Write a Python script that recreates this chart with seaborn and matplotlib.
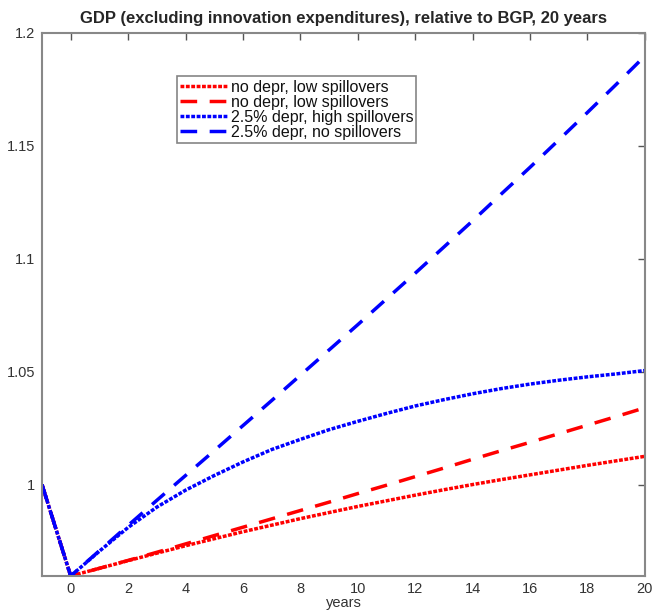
import matplotlib
matplotlib.use("Agg")
import matplotlib.pyplot as plt
import seaborn as sns
import pandas as pd

years = list(range(-1, 21))
red_dotted = [1.0, 0.9595, 0.9629, 0.9663, 0.9696, 0.9729, 0.9760, 0.9791, 0.9820, 0.9849, 0.9876,
              0.9903, 0.9928, 0.9953, 0.9977, 1.0000, 1.0022, 1.0043, 1.0064, 1.0085, 1.0105, 1.0125]
red_dashed = [1.0, 0.9595, 0.9629, 0.9664, 0.9700, 0.9737, 0.9774, 0.9811, 0.9848, 0.9885, 0.9922,
              0.9960, 0.9997, 1.0035, 1.0073, 1.0112, 1.0150, 1.0187, 1.0225, 1.0263, 1.0301, 1.0340]
blue_dotted = [1.0, 0.9595, 0.9705, 0.9810, 0.9900, 0.9975, 1.0040, 1.0100, 1.0155, 1.0200, 1.0243,
               1.0280, 1.0315, 1.0348, 1.0376, 1.0402, 1.0425, 1.0445, 1.0462, 1.0477, 1.0490, 1.0505]
blue_dashed = [1.0, 0.9595, 0.9707, 0.9819, 0.9930, 1.0040, 1.0150, 1.0261, 1.0372, 1.0484, 1.0596,
               1.0708, 1.0822, 1.0936, 1.1052, 1.1168, 1.1287, 1.1405, 1.1526, 1.1648, 1.1772, 1.1898]

labels = ["no depr, low spillovers", "no depr, low spillovers",
          "2.5% depr, high spillovers", "2.5% depr, no spillovers"]
series = [red_dotted, red_dashed, blue_dotted, blue_dashed]
colors = ["#ff0000", "#ff0000", "#0000ff", "#0000ff"]
dashes = [(1.1, 0.45), (4.8, 3.6), (1.1, 0.45), (4.8, 3.6)]

xticks = [0, 2, 4, 6, 8, 10, 12, 14, 16, 18, 20]
yticks = [1.0, 1.05, 1.1, 1.15, 1.2]
ytick_labels = ["1", "1.05", "1.1", "1.15", "1.2"]

sns.set_theme(style="white")
plt.rcParams["font.family"] = ["Liberation Sans", "DejaVu Sans"]

fig = plt.figure(figsize=(6.54, 6.11), dpi=100)
ax = fig.add_axes([0.0642, 0.0573, 0.9218, 0.8887])

for vals, lab, col, d in zip(series, labels, colors, dashes):
    df = pd.DataFrame({"years": years, "value": vals})
    sns.lineplot(data=df, x="years", y="value", ax=ax, color=col, linewidth=2.5, label=lab)
    ln = ax.lines[-1]
    ln.set_dashes(d)
    ln.set_dash_capstyle("butt")

ax.set_xlim(-1, 20)
ax.set_ylim(0.9595, 1.2)
ax.set_xticks(xticks)
ax.set_yticks(yticks)
ax.set_yticklabels(ytick_labels)
ax.tick_params(axis="both", direction="in", length=5, width=1, colors="#555555",
               labelcolor="#333333", labelsize=10.5, top=True, right=True,
               labeltop=False, labelright=False, pad=4)
ax.tick_params(axis="y", pad=5)
for sp in ax.spines.values():
    sp.set_color("#888888")
    sp.set_linewidth(1.5)

ax.set_xlabel("years", fontsize=10.5, color="#333333", labelpad=0)
ax.set_ylabel("")
ax.set_title("GDP (excluding innovation expenditures), relative to BGP, 20 years",
             fontsize=12, fontweight="bold", pad=7)

leg = ax.legend(loc="upper left", bbox_to_anchor=(0.224, 0.92), fontsize=11.5,
                handlelength=3.0, handletextpad=0.15, labelspacing=0.0,
                borderpad=0.2, borderaxespad=0, frameon=True, fancybox=False)
leg.get_frame().set_edgecolor("#666666")
leg.get_frame().set_linewidth(1.2)
for t in leg.get_texts():
    t.set_color("#111111")

fig.savefig("out.png", dpi=100)
